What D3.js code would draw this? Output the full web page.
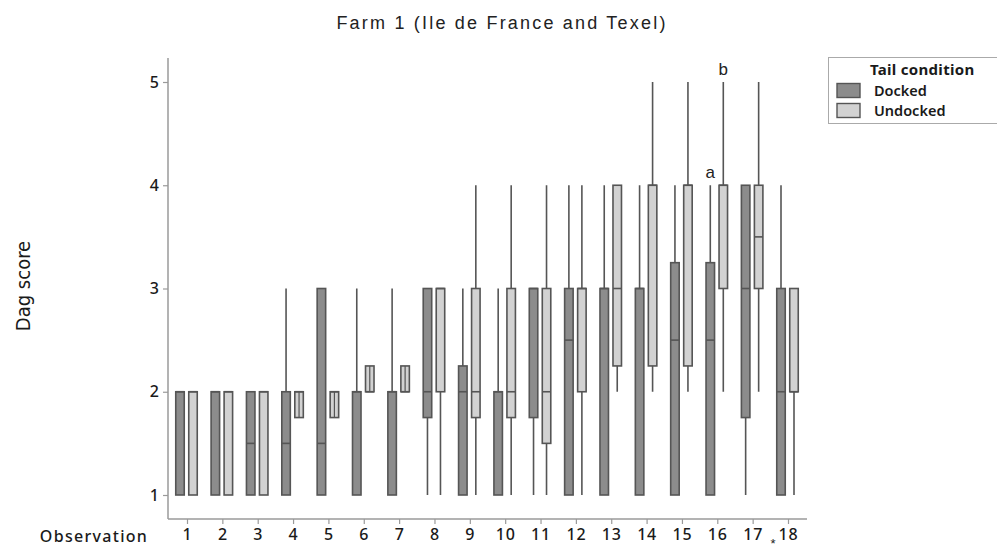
<!DOCTYPE html>
<html>
<head>
<meta charset="utf-8">
<script src="https://cdn.jsdelivr.net/npm/d3@7/dist/d3.min.js"></script>
<style>
  html, body { margin: 0; padding: 0; background: #fff; }
  svg { display: block; }
</style>
</head>
<body>
<script>
// Dag score by observation, split by tail condition (boxplot summaries)
const observations = [1,2,3,4,5,6,7,8,9,10,11,12,13,14,15,16,17,18];
const yTicks = [1,2,3,4,5];

// Docked: min, Q1, median, Q3, max
const dockedMin = [1,1,1,1,1,1,1,1,1,1,1,1,1,1,1,1,1,1];
const dockedQ1  = [1,1,1,1,1,1,1,1.75,1,1,1.75,1,1,1,1,1,1.75,1];
const dockedMed = [2,2,1.5,1.5,1.5,2,2,2,2,2,3,2.5,3,3,2.5,2.5,3,2];
const dockedQ3  = [2,2,2,2,3,2,2,3,2.25,2,3,3,3,3,3.25,3.25,4,3];
const dockedMax = [2,2,2,3,3,3,3,3,3,3,3,4,4,4,4,4,4,4];

// Undocked: min, Q1, median, Q3, max
const undockedMin = [1,1,1,1.75,1.75,2,2,1,1,1,1,1,2,2,2,2,2,1];
const undockedQ1  = [1,1,1,1.75,1.75,2,2,2,1.75,1.75,1.5,2,2.25,2.25,2.25,3,3,2];
const undockedMed = [2,2,2,2,2,2,2,3,2,2,2,3,3,4,4,4,3.5,2];
const undockedQ3  = [2,2,2,2,2,2.25,2.25,3,3,3,3,3,4,4,4,4,4,3];
const undockedMax = [2,2,2,2,2,2.25,2.25,3,4,4,4,4,4,5,5,5,5,3];

const groups = ["Docked", "Undocked"];
const groupColors = ["#8c8c8c", "#d2d2d2"];

// Letter annotations on observation 16
const annotations = [
  {obs: 16, group: "Docked", value: 4, text: "a"},
  {obs: 16, group: "Undocked", value: 5, text: "b"}
];

const W = 997, H = 550;
const svg = d3.select("body").append("svg").attr("width", W).attr("height", H);

const y = d3.scaleLinear().domain([1, 5]).range([495, 82]);
const x = d3.scalePoint().domain(observations).range([187, 788]);
const offset = d3.scaleOrdinal().domain(groups).range([-7, 6]);
const boxW = 8.5;
const axisBottomY = 519;
const axisColor = "#9a9a9a";
const strokeColor = "#555";
const labelFont = "Noto Sans, DejaVu Sans, sans-serif";

function boxStats(i, g) {
  if (g === "Docked") return {min: dockedMin[i], q1: dockedQ1[i], med: dockedMed[i], q3: dockedQ3[i], max: dockedMax[i]};
  return {min: undockedMin[i], q1: undockedQ1[i], med: undockedMed[i], q3: undockedQ3[i], max: undockedMax[i]};
}

const boxes = [];
observations.forEach((o, i) => groups.forEach((g, gi) => boxes.push({obs: o, group: g, gi, ...boxStats(i, g)})));

// Title
svg.append("text")
  .attr("x", 502).attr("y", 29)
  .attr("text-anchor", "middle")
  .attr("font-family", "Liberation Sans, Arial, sans-serif")
  .attr("font-size", 18)
  .attr("letter-spacing", 2.2)
  .attr("fill", "#222")
  .text("Farm 1 (Ile de France and Texel)");

// Y axis
const yAxis = svg.append("g")
  .attr("transform", "translate(168,0)")
  .call(d3.axisLeft(y).tickValues(yTicks).tickFormat(d3.format("d")).tickSize(5).tickPadding(4).tickSizeOuter(0));
yAxis.select(".domain").remove();
yAxis.selectAll(".tick line").attr("stroke", axisColor).attr("stroke-width", 1.2);
yAxis.selectAll(".tick text")
  .attr("font-family", labelFont)
  .attr("font-size", 16).attr("font-weight", 500).attr("fill", "#1a1a1a");
svg.append("line")
  .attr("x1", 168).attr("x2", 168).attr("y1", 58).attr("y2", axisBottomY)
  .attr("stroke", axisColor).attr("stroke-width", 1.5);

// X axis
const xAxis = svg.append("g")
  .attr("transform", `translate(0,${axisBottomY})`)
  .call(d3.axisBottom(x).tickSize(5).tickPadding(5).tickSizeOuter(0));
xAxis.select(".domain").remove();
xAxis.selectAll(".tick line").attr("stroke", axisColor).attr("stroke-width", 1.2);
xAxis.selectAll(".tick text")
  .attr("font-family", labelFont)
  .attr("font-size", 16).attr("font-weight", 500).attr("letter-spacing", 0.8).attr("fill", "#1a1a1a");
svg.append("line")
  .attr("x1", 168).attr("x2", 807).attr("y1", axisBottomY).attr("y2", axisBottomY)
  .attr("stroke", axisColor).attr("stroke-width", 1.5);

svg.append("text")
  .attr("x", 94).attr("y", 542)
  .attr("text-anchor", "middle")
  .attr("font-family", labelFont)
  .attr("font-size", 16).attr("font-weight", 500).attr("letter-spacing", 1.3).attr("fill", "#1a1a1a")
  .text("Observation");

svg.append("text")
  .attr("transform", "translate(30,286) rotate(-90)")
  .attr("text-anchor", "middle")
  .attr("font-family", "Liberation Sans Narrow, DejaVu Sans Condensed, sans-serif")
  .attr("font-size", 20).attr("fill", "#1a1a1a")
  .text("Dag score");

// Boxplots
const bx = d => x(d.obs) + offset(d.group);
const gBoxes = svg.append("g").selectAll("g").data(boxes).join("g");

gBoxes.append("line")
  .attr("x1", bx).attr("x2", bx)
  .attr("y1", d => y(d.max)).attr("y2", d => y(d.min))
  .attr("stroke", strokeColor).attr("stroke-width", 1.6);

gBoxes.append("rect")
  .attr("x", d => bx(d) - boxW / 2)
  .attr("width", boxW)
  .attr("y", d => y(d.q3))
  .attr("height", d => y(d.q1) - y(d.q3))
  .attr("fill", d => groupColors[d.gi])
  .attr("stroke", strokeColor).attr("stroke-width", 1.6);

// short boxes show the whisker line through their middle
gBoxes.filter(d => d.q3 - d.q1 <= 0.25).append("line")
  .attr("x1", bx).attr("x2", bx)
  .attr("y1", d => y(d.q3)).attr("y2", d => y(d.q1))
  .attr("stroke", strokeColor).attr("stroke-width", 1.2);

gBoxes.append("line")
  .attr("x1", d => bx(d) - boxW / 2).attr("x2", d => bx(d) + boxW / 2)
  .attr("y1", d => y(d.med)).attr("y2", d => y(d.med))
  .attr("stroke", strokeColor).attr("stroke-width", 1.6);

// Annotations
svg.append("g").selectAll("text").data(annotations).join("text")
  .attr("x", d => x(d.obs) + offset(d.group))
  .attr("y", d => y(d.value) - 7)
  .attr("text-anchor", "middle")
  .attr("font-family", "Liberation Sans, Arial, sans-serif")
  .attr("font-size", 17).attr("fill", "#222")
  .text(d => d.text);

svg.append("text")
  .attr("x", x(18) - 15).attr("y", 548)
  .attr("text-anchor", "middle")
  .attr("font-family", "Liberation Sans, Arial, sans-serif")
  .attr("font-size", 13).attr("fill", "#222")
  .text("*");

// Legend
const legend = svg.append("g");
legend.append("rect")
  .attr("x", 828.5).attr("y", 57.5).attr("width", 175).attr("height", 66)
  .attr("fill", "#fff").attr("stroke", "#aaa").attr("stroke-width", 1);
legend.append("text")
  .attr("x", 870).attr("y", 75)
  .attr("font-family", labelFont)
  .attr("font-size", 15).attr("font-weight", "bold").attr("letter-spacing", 0.3).attr("fill", "#1a1a1a")
  .text("Tail condition");
groups.forEach((g, i) => {
  legend.append("rect")
    .attr("x", 837).attr("y", 83.5 + i * 20).attr("width", 23).attr("height", 14)
    .attr("fill", groupColors[i]).attr("stroke", strokeColor).attr("stroke-width", 1.4);
  legend.append("text")
    .attr("x", 874).attr("y", 96 + i * 20)
    .attr("font-family", labelFont)
    .attr("font-size", 14.5).attr("font-weight", 600).attr("fill", "#1a1a1a")
    .text(g);
});
</script>
</body>
</html>
